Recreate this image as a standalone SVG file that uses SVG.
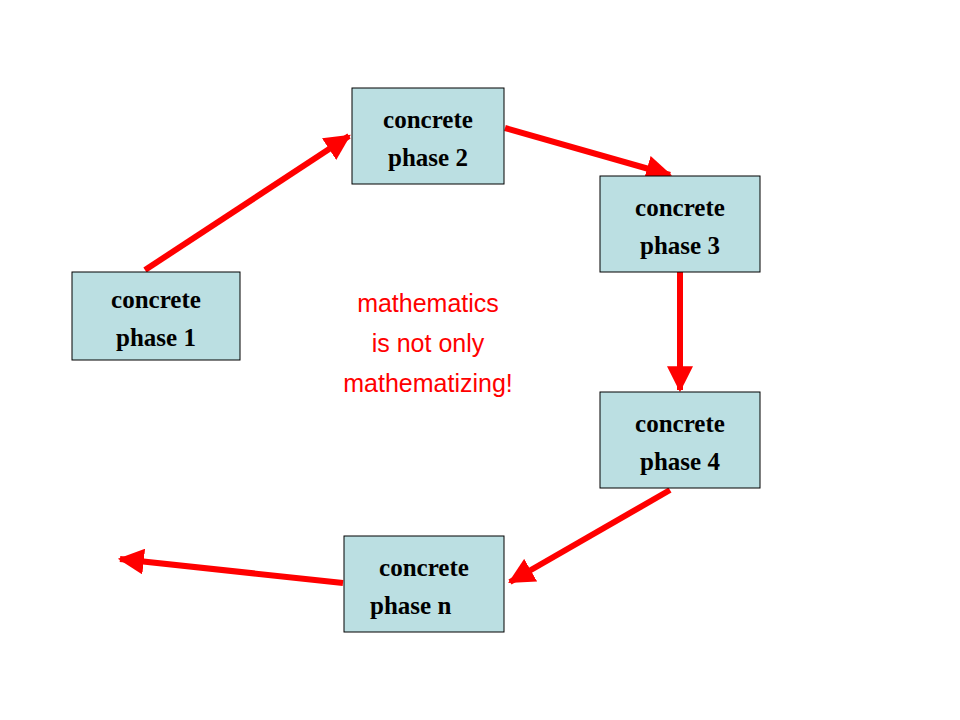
<svg xmlns="http://www.w3.org/2000/svg" width="960" height="720" viewBox="0 0 960 720">
<style>
.box{fill:#bbdfe2;stroke:#000;stroke-width:1}
.t{font-family:"Liberation Serif",serif;font-weight:bold;font-size:25px;fill:#000;text-anchor:middle}
.c{stroke:#ff0000;stroke-width:6;fill:none;marker-end:url(#ah)}
.r{font-family:"Liberation Sans",sans-serif;font-size:25px;fill:#ff0000;text-anchor:middle}
</style>
<defs>
<marker id="ah" markerUnits="userSpaceOnUse" markerWidth="26" markerHeight="26" refX="22" refY="12" orient="auto" viewBox="0 0 24 24">
<path d="M0,0 L24,12 L0,24 Z" fill="#ff0000"/>
</marker>
</defs>
<rect width="960" height="720" fill="#fff"/>
<g id="connectors">
<line class="c" x1="145" y1="270" x2="349" y2="136"/>
<line class="c" x1="505" y1="128" x2="670" y2="175"/>
<line class="c" x1="680" y1="272" x2="680" y2="390"/>
<line class="c" x1="670" y1="490" x2="510" y2="582"/>
<line class="c" x1="343" y1="583" x2="120" y2="559"/>
</g>
<g id="n1"><rect class="box" x="72" y="272" width="168" height="88"/><text class="t" x="156" y="308">concrete</text><text class="t" x="156" y="346">phase 1</text></g>
<g id="n2"><rect class="box" x="352" y="88" width="152" height="96"/><text class="t" x="428" y="128">concrete</text><text class="t" x="428" y="166">phase 2</text></g>
<g id="n3"><rect class="box" x="600" y="176" width="160" height="96"/><text class="t" x="680" y="216">concrete</text><text class="t" x="680" y="254">phase 3</text></g>
<g id="n4"><rect class="box" x="600" y="392" width="160" height="96"/><text class="t" x="680" y="432">concrete</text><text class="t" x="680" y="470">phase 4</text></g>
<g id="nn"><rect class="box" x="344" y="536" width="160" height="96"/><text class="t" x="424" y="576">concrete</text><text class="t" x="370" y="614" style="text-anchor:start">phase n</text></g>
<g id="label"><text class="r" x="428" y="312">mathematics</text><text class="r" x="428" y="352">is not only</text><text class="r" x="428" y="392">mathematizing!</text></g>
</svg>
